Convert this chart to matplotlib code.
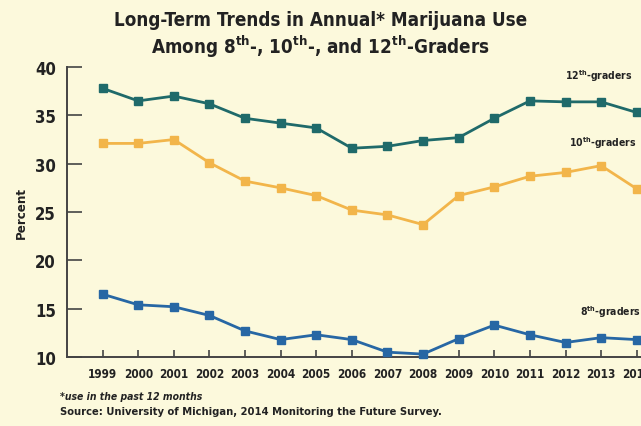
import matplotlib
matplotlib.use("Agg")
import matplotlib.pyplot as plt

# Data
years = list(range(1999, 2015))
grade12 = [37.8, 36.5, 37.0, 36.2, 34.7, 34.2, 33.7, 31.6, 31.8, 32.4, 32.7, 34.7, 36.5, 36.4, 36.4, 35.3]
grade10 = [32.1, 32.1, 32.5, 30.1, 28.2, 27.5, 26.7, 25.2, 24.7, 23.7, 26.7, 27.6, 28.7, 29.1, 29.8, 27.4]
grade8 = [16.5, 15.4, 15.2, 14.3, 12.7, 11.8, 12.3, 11.8, 10.5, 10.3, 11.9, 13.3, 12.3, 11.5, 12.0, 11.8]
y_ticks = [10, 15, 20, 25, 30, 35, 40]

BG = "#fcf9dc"
C12 = "#1f6a6a"
C10 = "#f2b54a"
C8 = "#2767a4"
INK = "#222222"

plt.rcParams["font.family"] = ["DejaVu Sans"]
plt.rcParams["font.stretch"] = "condensed"
plt.rcParams["mathtext.fontset"] = "custom"
plt.rcParams["mathtext.rm"] = "DejaVu Sans:bold"
plt.rcParams["mathtext.bf"] = "DejaVu Sans:bold"


def sup(s):
    return r"$^{\mathrm{" + s + "}}$"


fig = plt.figure(figsize=(6.41, 4.27), dpi=100, facecolor=BG)
ax = fig.add_axes([0.1045, 0.1616, 0.8955, 0.679])
ax.set_facecolor(BG)

for vals, col in [(grade12, C12), (grade10, C10), (grade8, C8)]:
    ax.plot(years, vals, color=col, lw=2, marker="s", ms=5.5, mec=col, mfc=col,
            clip_on=False, zorder=3)

ax.set_xlim(1998.0, 2014.12)
ax.set_ylim(10, 40)
ax.set_yticks(y_ticks)
ax.set_xticks(years)
ax.set_xticklabels([str(y) for y in years], fontsize=8.5, fontweight="bold", color=INK)
ax.set_yticklabels([str(t) for t in y_ticks], fontsize=12, fontweight="bold", color=INK)
ax.tick_params(axis="y", direction="in", length=11, width=1.2, color="#444444", pad=8)
ax.tick_params(axis="x", direction="in", length=5, width=1.2, color="#444444", pad=7)
for s in ["top", "right"]:
    ax.spines[s].set_visible(False)
for s in ["left", "bottom"]:
    ax.spines[s].set_color("#444444")
    ax.spines[s].set_linewidth(1.4)

ax.set_ylabel("Percent", fontsize=9.5, fontweight="bold", color=INK)
ax.yaxis.set_label_coords(-0.068, 0.5)

fig.text(0.5, 0.952, "Long-Term Trends in Annual* Marijuana Use",
         ha="center", va="center", fontsize=13.5, fontweight="bold", color=INK)
fig.text(0.5, 0.89, "Among 8" + sup("th") + "-, 10" + sup("th") + "-, and 12" + sup("th") + "-Graders",
         ha="center", va="center", fontsize=13.5, fontweight="bold", color=INK)

fig.text(0.986, 0.822, "12" + sup("th") + "-graders", ha="right", va="center",
         fontsize=7.5, fontweight="bold", color=INK)
fig.text(0.993, 0.665, "10" + sup("th") + "-graders", ha="right", va="center",
         fontsize=7.5, fontweight="bold", color=INK)
fig.text(1.0, 0.27, "8" + sup("th") + "-graders", ha="right", va="center",
         fontsize=7.5, fontweight="bold", color=INK)

fig.text(0.094, 0.07, "*use in the past 12 months", ha="left", va="center",
         fontsize=7.5, fontweight="bold", fontstyle="italic", color=INK)
fig.text(0.094, 0.035, "Source: University of Michigan, 2014 Monitoring the Future Survey.",
         ha="left", va="center", fontsize=8, fontweight="bold", color=INK)

fig.savefig("out.png", dpi=100, facecolor=BG)
